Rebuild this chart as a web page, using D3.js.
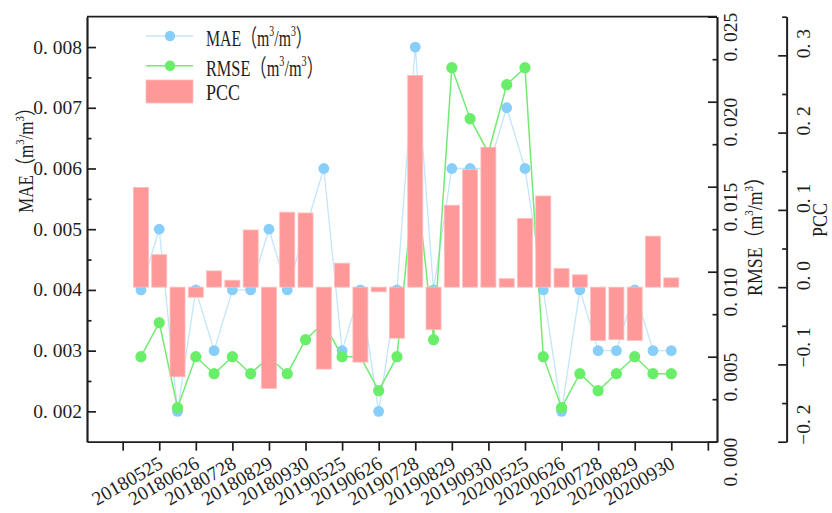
<!DOCTYPE html>
<html>
<head>
<meta charset="utf-8">
<script src="https://cdn.jsdelivr.net/npm/d3@7"></script>
<style>
  html, body { margin: 0; padding: 0; background: #fff; }
  svg { display: block; }
  text { font-family: "Liberation Serif", "Noto Sans CJK SC", serif; fill: #1e1e1e; }
</style>
</head>
<body>
<svg id="chart" width="832" height="513"></svg>
<script>
// Observation slots: every other one carries a date label on the x axis
const labels = [
  "", "20180525", "", "20180626", "", "20180728", "", "20180829", "", "20180930",
  "", "20190525", "", "20190626", "", "20190728", "", "20190829", "", "20190930",
  "", "20200525", "", "20200626", "", "20200728", "", "20200829", "", "20200930"
];

const mae = [
  0.004, 0.005, 0.002, 0.004, 0.003, 0.004, 0.004, 0.005, 0.004, 0.005,
  0.006, 0.003, 0.004, 0.002, 0.004, 0.008, 0.004, 0.006, 0.006, 0.006,
  0.007, 0.006, 0.004, 0.002, 0.004, 0.003, 0.003, 0.004, 0.003, 0.003
];

const rmse = [
  0.005, 0.007, 0.002, 0.005, 0.004, 0.005, 0.004, 0.005, 0.004, 0.006,
  0.007, 0.005, 0.005, 0.003, 0.005, 0.016, 0.006, 0.022, 0.019, 0.017,
  0.021, 0.022, 0.005, 0.002, 0.004, 0.003, 0.004, 0.005, 0.004, 0.004
];

const pcc = [
  0.129, 0.042, -0.116, -0.013, 0.021, 0.009, 0.074, -0.131, 0.097, 0.096,
  -0.106, 0.031, -0.097, -0.006, -0.066, 0.274, -0.055, 0.106, 0.152, 0.181,
  0.011, 0.089, 0.118, 0.024, 0.016, -0.069, -0.068, -0.069, 0.066, 0.012
];

const maeTicks  = [0.002, 0.003, 0.004, 0.005, 0.006, 0.007, 0.008];
const rmseTicks = [0.000, 0.005, 0.010, 0.015, 0.020, 0.025];
const pccTicks  = [-0.2, -0.1, 0.0, 0.1, 0.2, 0.3];

const seriesNames = ["MAE", "RMSE", "PCC"];
const unitParts = ["（m", "3", "/m", "3", "）"];   // m³/m³, exponents raised

// ---- layout ----
const L = 87, R = 717, T = 16.7, B = 441.7;
const PCC_X = 786.7;
const C = {
  maeDot: "#87cefa", maeLine: "#c4e5fa",
  rmseDot: "#68ee68", rmseLine: "#74ea74",
  bar: "#ff9999", barEdge: "#ffbcbc",
  axis: "#1e1e1e"
};

const svg = d3.select("#chart");

const x = d3.scaleLinear().domain([-2.95, 31.5]).range([L, R]);
const yMae = d3.scaleLinear().domain([0.0015, 0.0085]).range([B, T]);
const yRmse = d3.scaleLinear().domain([0, 0.025]).range([B, T]);
const yPcc = d3.scaleLinear().domain([-0.2, 0.35]).range([B, T]);

// minor ticks halfway between the major ones
const mids = arr => arr.slice(1).map((v, i) => (v + arr[i]) / 2);
const maeMinor = mids(maeTicks);
const rmseMinor = mids(rmseTicks);
const pccMinor = mids(pccTicks).concat([0.35]);

// x ticks sit on every labelled slot plus one slot before and after
const labelled = labels.map((s, i) => s ? i : null).filter(v => v !== null);
const xTicks = [labelled[0] - 2].concat(labelled, [labelled[labelled.length - 1] + 2]);

// ---- MAE series ----
svg.append("path")
  .datum(mae)
  .attr("d", d3.line().x((d, i) => x(i)).y(d => yMae(d)))
  .attr("fill", "none").attr("stroke", C.maeLine).attr("stroke-width", 1.3);
svg.append("g").selectAll("circle").data(mae).join("circle")
  .attr("cx", (d, i) => x(i)).attr("cy", d => yMae(d)).attr("r", 5.4)
  .attr("fill", C.maeDot);

// ---- RMSE series ----
svg.append("path")
  .datum(rmse)
  .attr("d", d3.line().x((d, i) => x(i)).y(d => yRmse(d)))
  .attr("fill", "none").attr("stroke", C.rmseLine).attr("stroke-width", 1.5);
svg.append("g").selectAll("circle").data(rmse).join("circle")
  .attr("cx", (d, i) => x(i)).attr("cy", d => yRmse(d)).attr("r", 5.6)
  .attr("fill", C.rmseDot);

// ---- PCC bars (drawn over the lines) ----
const bw = (x(1) - x(0)) * 0.82;
svg.append("g").selectAll("rect").data(pcc).join("rect")
  .attr("x", (d, i) => x(i) - bw / 2)
  .attr("y", d => yPcc(Math.max(0, d)))
  .attr("width", bw)
  .attr("height", d => Math.abs(yPcc(d) - yPcc(0)))
  .attr("fill", C.bar).attr("stroke", C.barEdge).attr("stroke-width", 0.8);

// ---- axes ----
function styleAxis(g) {
  g.selectAll("path, line").attr("stroke", C.axis).attr("stroke-width", 1.7);
  g.selectAll("text").remove();
}

// left MAE axis, ticks pointing into the plot
svg.append("g").attr("transform", `translate(${L},0)`)
  .call(d3.axisLeft(yMae).tickValues(maeTicks).tickSize(-9).tickSizeOuter(0).tickFormat(""))
  .call(styleAxis);
svg.append("g").attr("transform", `translate(${L},0)`)
  .call(d3.axisLeft(yMae).tickValues(maeMinor).tickSize(-4.5).tickSizeOuter(0).tickFormat(""))
  .call(styleAxis);

// right RMSE axis
svg.append("g").attr("transform", `translate(${R},0)`)
  .call(d3.axisRight(yRmse).tickValues(rmseTicks).tickSize(-9).tickSizeOuter(0).tickFormat(""))
  .call(styleAxis);
svg.append("g").attr("transform", `translate(${R},0)`)
  .call(d3.axisRight(yRmse).tickValues(rmseMinor).tickSize(-4.5).tickSizeOuter(0).tickFormat(""))
  .call(styleAxis);

// offset PCC axis
svg.append("g").attr("transform", `translate(${PCC_X},0)`)
  .call(d3.axisRight(yPcc).tickValues(pccTicks).tickSize(-8.5).tickSizeOuter(0).tickFormat(""))
  .call(styleAxis);
svg.append("g").attr("transform", `translate(${PCC_X},0)`)
  .call(d3.axisRight(yPcc).tickValues(pccMinor).tickSize(-4.5).tickSizeOuter(0).tickFormat(""))
  .call(styleAxis);

// bottom axis
svg.append("g").attr("transform", `translate(0,${B})`)
  .call(d3.axisBottom(x).tickValues(xTicks).tickSize(9).tickSizeOuter(0).tickFormat(""))
  .call(styleAxis);

// top frame edge
svg.append("line")
  .attr("x1", L).attr("x2", R).attr("y1", T).attr("y2", T)
  .attr("stroke", C.axis).attr("stroke-width", 1.7);

// ---- tick labels ----
// decimals are set with a small gap after the point
function decimalLabel(sel, v, digits, size) {
  const s = (v < 0 ? "\u2212" : "") + Math.abs(v).toFixed(digits);
  const [a, b] = s.split(".");
  sel.append("tspan").text(a + ".");
  sel.append("tspan").attr("dx", size * 0.25).text(b);
}

const TICK_FS = 19.5;

svg.append("g").selectAll("text").data(maeTicks).join("text")
  .attr("x", 82).attr("y", d => yMae(d) + 6.5)
  .attr("text-anchor", "end").attr("font-size", TICK_FS)
  .each(function (d) { decimalLabel(d3.select(this), d, 3, TICK_FS); });

svg.append("g").selectAll("text").data(rmseTicks).join("text")
  .attr("transform", d => `translate(737,${yRmse(d) - 4}) rotate(-90)`)
  .attr("text-anchor", "end").attr("font-size", TICK_FS)
  .each(function (d) { decimalLabel(d3.select(this), d, 3, TICK_FS); });

svg.append("g").selectAll("text").data(pccTicks).join("text")
  .attr("transform", d => `translate(810,${yPcc(d) + 3}) rotate(-90)`)
  .attr("text-anchor", "start").attr("font-size", TICK_FS)
  .each(function (d) { decimalLabel(d3.select(this), d, 1, TICK_FS); });

svg.append("g").selectAll("text").data(labelled).join("text")
  .attr("transform", i => `translate(${x(i) + 5},467) rotate(-30)`)
  .attr("text-anchor", "end").attr("font-size", TICK_FS)
  .text(i => labels[i]);

// ---- titles with units ----
// builds "NAME（m³/m³）" and squeezes it horizontally to a given length
function unitText(parent, name, withUnit, size, place, anchor, width) {
  const t = parent.append("text").attr("font-size", size).attr("text-anchor", anchor);
  t.append("tspan").text(name);
  if (withUnit) {
    unitParts.forEach((p, k) => {
      const sup = k % 2 === 1;
      const sp = t.append("tspan").text(p);
      if (sup) sp.attr("font-size", size * 0.62).attr("dy", -size * 0.42);
      else if (k > 0) sp.attr("dy", size * 0.42);
    });
  }
  const w = t.node().getComputedTextLength();
  t.attr("transform", `${place} scale(${width / w},1)`);
  return t;
}

unitText(svg, seriesNames[0], true, 21, "translate(33,156) rotate(-90)", "middle", 114);
unitText(svg, seriesNames[1], true, 21, "translate(762,232) rotate(-90)", "middle", 128);
unitText(svg, seriesNames[2], false, 21, "translate(827,220) rotate(-90)", "middle", 34);

// ---- legend ----
const lg = svg.append("g");
const legendW = [105.7, 117, 34];
const rowY = [36, 65.7, 91.5];
[[C.maeLine, C.maeDot], [C.rmseLine, C.rmseDot]].forEach(([lc, dc], k) => {
  lg.append("line").attr("x1", 146).attr("x2", 193).attr("y1", rowY[k]).attr("y2", rowY[k])
    .attr("stroke", lc).attr("stroke-width", 1.4);
  lg.append("circle").attr("cx", 170).attr("cy", rowY[k]).attr("r", 5.2).attr("fill", dc);
});
lg.append("rect").attr("x", 146).attr("y", 80).attr("width", 47).attr("height", 23)
  .attr("fill", C.bar).attr("stroke", C.barEdge).attr("stroke-width", 0.8);
seriesNames.forEach((name, k) => {
  unitText(lg, name, k < 2, 24,
    `translate(206,${rowY[k] + (k === 2 ? 8.5 : 10)})`, "start", legendW[k]);
});
</script>
</body>
</html>
